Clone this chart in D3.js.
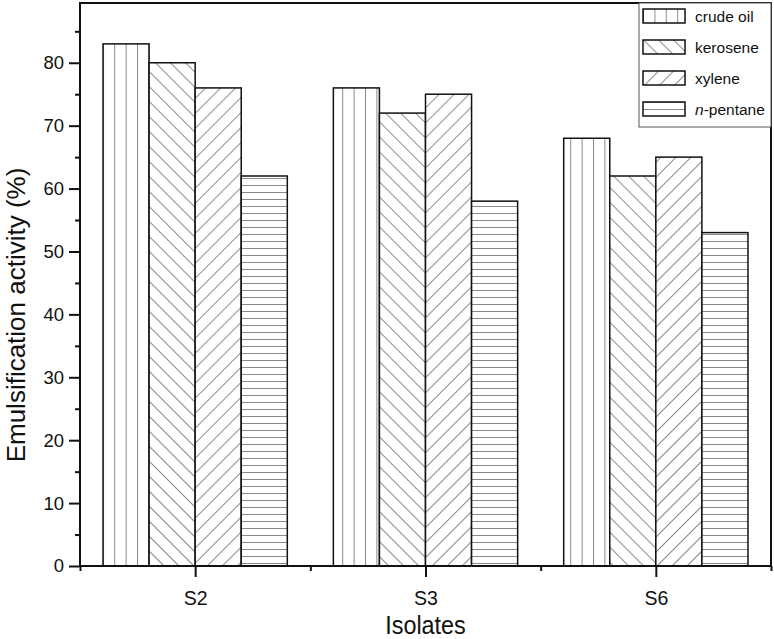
<!DOCTYPE html>
<html>
<head>
<meta charset="utf-8">
<script src="https://cdn.jsdelivr.net/npm/d3@7"></script>
<style>
  body { margin: 0; background: #fff; }
  svg { display: block; font-family: "Liberation Sans", Arial, sans-serif; }
</style>
</head>
<body>
<div class="canvas"></div>
<script>
const isolates = ['S2', 'S3', 'S6'];
const seriesNames = ['crude oil', 'kerosene', 'xylene', 'n-pentane'];
const crudeOil = [83, 76, 68];
const kerosene = [80, 72, 62];
const xylene = [76, 75, 65];
const nPentane = [62, 58, 53];
const yTicks = [0, 10, 20, 30, 40, 50, 60, 70, 80];

const width = 774, height = 639;
const margin = { top: 3, right: 3, bottom: 73, left: 80 };
const graphWidth = width - margin.left - margin.right;
const graphHeight = height - margin.top - margin.bottom;

const svg = d3.select('.canvas')
  .append('svg')
  .attr('width', width)
  .attr('height', height);

// hatch patterns
const defs = svg.append('defs');
const hatch = (id, size, d, rot) => {
  const p = defs.append('pattern')
    .attr('id', id)
    .attr('patternUnits', 'userSpaceOnUse')
    .attr('width', size)
    .attr('height', size);
  if (rot) p.attr('patternTransform', `rotate(${rot})`);
  p.append('rect').attr('width', size).attr('height', size).attr('fill', '#fff');
  p.append('path').attr('d', d).attr('stroke', '#8a8a8a').attr('stroke-width', 1).attr('fill', 'none');
};
hatch('p0', 11.4, 'M0.5,0 V11.4', 0);
hatch('p1', 10.6, 'M0.5,0 V10.6', -45);
hatch('p2', 10.6, 'M0.5,0 V10.6', 45);
hatch('p3', 7, 'M0,0.5 H7', 0);

const graph = svg.append('g')
  .attr('transform', `translate(${margin.left}, ${margin.top})`);

const x = d3.scaleLinear().domain([0.5, 3.5]).range([0, graphWidth]);
const y = d3.scaleLinear().domain([0, 89.5]).range([graphHeight, 0]);

const series = [crudeOil, kerosene, xylene, nPentane];
const barW = 0.2;

series.forEach((vals, s) => {
  graph.selectAll('.bar' + s)
    .data(vals)
    .enter()
    .append('rect')
      .attr('class', 'bar' + s)
      .attr('x', (d, i) => x(i + 1 - 2 * barW + s * barW))
      .attr('width', x(1 + barW) - x(1))
      .attr('y', d => y(d))
      .attr('height', d => graphHeight - y(d))
      .attr('fill', `url(#p${s})`)
      .attr('stroke', '#111')
      .attr('stroke-width', 1.5);
});

// frame
graph.append('rect')
  .attr('width', graphWidth)
  .attr('height', graphHeight)
  .attr('fill', 'none')
  .attr('stroke', '#111')
  .attr('stroke-width', 2);

// y axis
const yAxis = d3.axisLeft(y).tickValues(yTicks).tickSize(11).tickPadding(5).tickFormat(d3.format('d'));
const yAxisGroup = graph.append('g').call(yAxis);
graph.append('g')
  .call(d3.axisLeft(y).tickValues(d3.range(5, 90, 10)).tickSize(5).tickFormat(''));

// x axis
const xAxisGroup = graph.append('g')
  .attr('transform', `translate(0, ${graphHeight})`)
  .call(d3.axisBottom(x).tickValues([1, 2, 3]).tickSize(11).tickPadding(14).tickFormat(d => isolates[d - 1]));
graph.append('g')
  .attr('transform', `translate(0, ${graphHeight})`)
  .call(d3.axisBottom(x).tickValues([0.5, 1.5, 2.5, 3.5]).tickSize(5).tickFormat(''));

graph.selectAll('.domain').remove();
graph.selectAll('.tick line').attr('stroke', '#111').attr('stroke-width', 2);
graph.selectAll('.tick text')
  .attr('fill', '#111')
  .style('font-family', '"Liberation Sans", Arial, sans-serif');
yAxisGroup.selectAll('.tick text').style('font-size', '18.5px');
xAxisGroup.selectAll('.tick text').style('font-size', '19.5px');

// axis titles
svg.append('text')
  .attr('transform', `translate(25, 315) rotate(-90)`)
  .attr('text-anchor', 'middle')
  .attr('fill', '#111')
  .style('font-size', '26px')
  .text('Emulsification activity (%)');

svg.append('text')
  .attr('transform', `translate(${margin.left + graphWidth / 2}, 634) scale(0.9, 1)`)
  .attr('text-anchor', 'middle')
  .attr('fill', '#111')
  .style('font-size', '26px')
  .text('Isolates');

// legend
const legend = svg.append('g').attr('transform', 'translate(639, 3)');
legend.append('rect')
  .attr('width', 132)
  .attr('height', 124)
  .attr('fill', '#fff')
  .attr('stroke', '#555')
  .attr('stroke-width', 1);

const rows = legend.selectAll('.row')
  .data(seriesNames)
  .enter()
  .append('g')
    .attr('class', 'row')
    .attr('transform', (d, i) => `translate(4, ${6 + i * 31})`);

rows.append('rect')
  .attr('width', 42)
  .attr('height', 14)
  .attr('fill', (d, i) => `url(#p${i})`)
  .attr('stroke', '#111')
  .attr('stroke-width', 1.5);

rows.append('text')
  .attr('x', 52)
  .attr('y', 12.5)
  .attr('fill', '#111')
  .style('font-size', '15.5px')
  .each(function(d) {
    const t = d3.select(this);
    if (d.startsWith('n-')) {
      t.append('tspan').style('font-style', 'italic').text('n');
      t.append('tspan').text(d.slice(1));
    } else {
      t.text(d);
    }
  });
</script>
</body>
</html>
